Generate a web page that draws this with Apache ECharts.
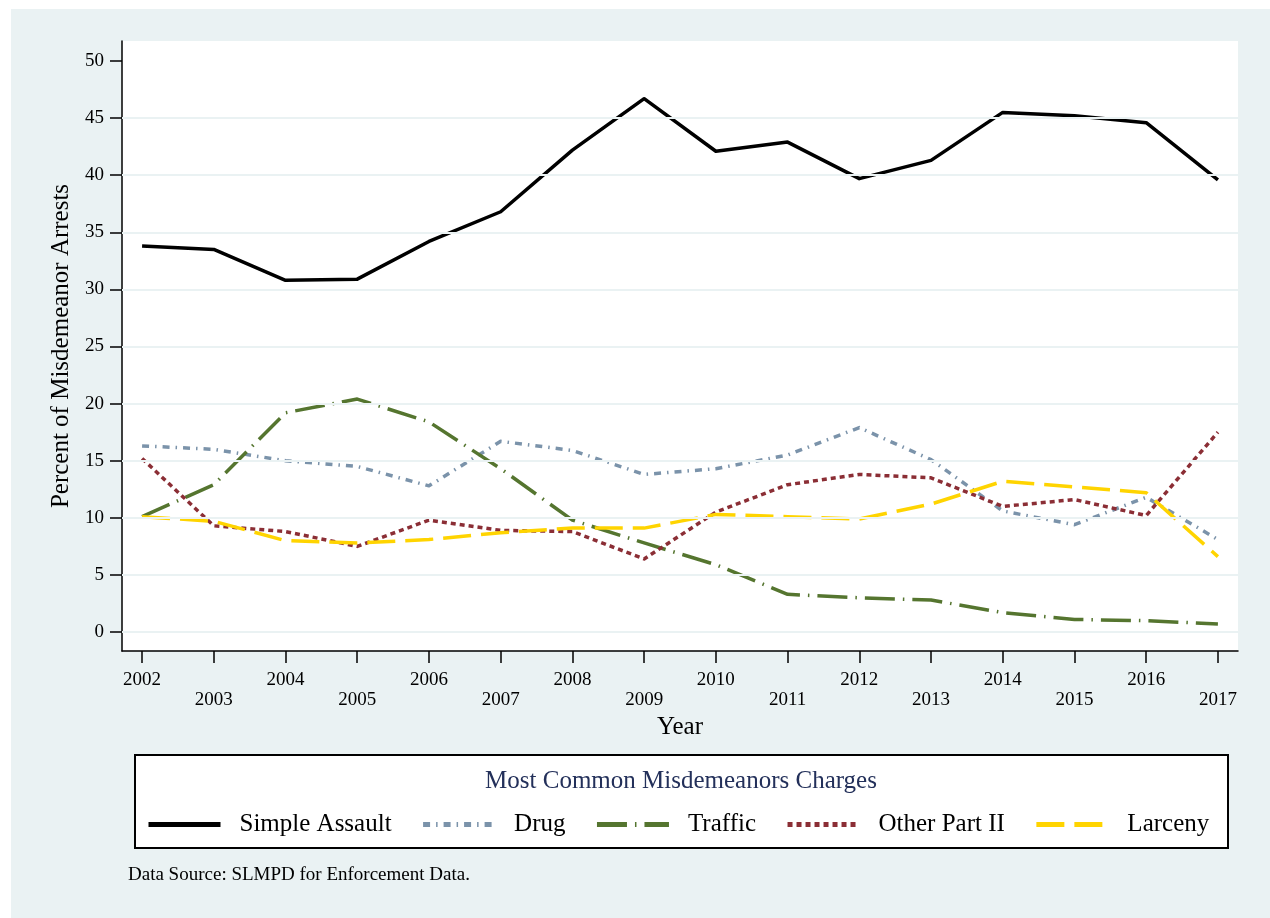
<!DOCTYPE html>
<html>
<head>
<meta charset="utf-8">
<title>Most Common Misdemeanors Charges</title>
<script src="https://cdn.jsdelivr.net/npm/echarts@6/dist/echarts.min.js"></script>
<style>
  html, body { margin: 0; padding: 0; background: #ffffff; }
  #panel { position: absolute; left: 11px; top: 9px; width: 1259px; height: 909px; background: #eaf2f3; }
  #chart { position: absolute; left: 0; top: 0; width: 1270px; height: 918px; }
</style>
</head>
<body>
<div id="panel"></div>
<div id="chart"></div>
<script>
// Share of misdemeanor arrests (%) by charge, 2002-2017
const years = [2002, 2003, 2004, 2005, 2006, 2007, 2008, 2009, 2010, 2011, 2012, 2013, 2014, 2015, 2016, 2017];
const simpleAssault = [33.8, 33.5, 30.8, 30.9, 34.2, 36.8, 42.2, 46.7, 42.1, 42.9, 39.7, 41.3, 45.5, 45.2, 44.6, 39.6];
const drug          = [16.3, 16.0, 15.0, 14.5, 12.8, 16.7, 15.9, 13.8, 14.3, 15.5, 17.9, 15.1, 10.6, 9.4, 11.8, 8.1];
const traffic       = [10.1, 12.9, 19.2, 20.4, 18.4, 14.3, 9.8, 7.8, 5.9, 3.3, 3.0, 2.8, 1.7, 1.1, 1.0, 0.7];
const otherPartII   = [15.2, 9.3, 8.8, 7.5, 9.8, 8.9, 8.8, 6.4, 10.5, 12.9, 13.8, 13.5, 11.0, 11.6, 10.2, 17.5];
const larceny       = [10.1, 9.7, 8.0, 7.8, 8.1, 8.7, 9.1, 9.1, 10.3, 10.1, 9.9, 11.2, 13.2, 12.7, 12.2, 6.6];
const yTicks = [0, 5, 10, 15, 20, 25, 30, 35, 40, 45, 50];
const gridValues = [0, 5, 10, 15, 20, 25, 30, 35, 40, 45];

const serif = '"Liberation Serif", "Times New Roman", "DejaVu Serif", serif';
const pairs = arr => years.map((y, i) => [y, arr[i]]);

const lineDefs = [
  { name: 'Simple Assault', data: simpleAssault, color: '#000000', dash: 'solid' },
  { name: 'Drug',           data: drug,          color: '#7b93aa', dash: [7, 6, 1.5, 6] },
  { name: 'Traffic',        data: traffic,       color: '#55752f', dash: [30, 8, 1.5, 8] },
  { name: 'Other Part II',  data: otherPartII,   color: '#8b2e35', dash: [5, 4] },
  { name: 'Larceny',        data: larceny,       color: '#ffd400', dash: [28, 10] }
];

const series = [
  {
    name: 'grid',
    type: 'line',
    data: [],
    silent: true,
    z: 1,
    markLine: {
      silent: true,
      symbol: 'none',
      label: { show: false },
      lineStyle: { color: '#eaf2f3', width: 2, type: 'solid' },
      emphasis: { disabled: true },
      data: gridValues.map(v => ({ yAxis: v }))
    }
  }
].concat(lineDefs.map(d => ({
  name: d.name,
  type: 'line',
  data: pairs(d.data),
  symbol: 'none',
  z: 3,
  color: d.color,
  lineStyle: { color: d.color, width: 3.5, type: d.dash, join: 'round' },
  emphasis: { disabled: true }
})));

const chart = echarts.init(document.getElementById('chart'), null, { renderer: 'canvas' });
chart.setOption({
  backgroundColor: 'transparent',
  animation: false,
  grid: {
    left: 122, top: 41, right: 32, bottom: 267,
    show: true, backgroundColor: '#ffffff', borderWidth: 0
  },
  xAxis: {
    type: 'value',
    min: 2001.72,
    max: 2017.28,
    name: 'Year',
    nameLocation: 'middle',
    nameGap: 57,
    nameTextStyle: { fontFamily: serif, fontSize: 25, color: '#000' },
    axisLine: { show: true, onZero: false, lineStyle: { color: '#000', width: 1.5 } },
    axisTick: { show: true, length: 12, customValues: years, lineStyle: { color: '#000', width: 1.5 } },
    axisLabel: {
      customValues: years,
      margin: 19,
      fontFamily: serif,
      fontSize: 19,
      color: '#000',
      lineHeight: 20,
      formatter: v => (v % 2 === 0 ? String(v) : '\n' + v)
    },
    splitLine: { show: false }
  },
  yAxis: {
    type: 'value',
    min: -1.66,
    max: 51.75,
    name: 'Percent of Misdemeanor Arrests',
    nameLocation: 'middle',
    nameGap: 47,
    nameTextStyle: { fontFamily: serif, fontSize: 25, color: '#000' },
    axisLine: { show: true, onZero: false, lineStyle: { color: '#000', width: 1.5 } },
    axisTick: { show: true, length: 12, customValues: yTicks, lineStyle: { color: '#000', width: 1.5 } },
    axisLabel: {
      customValues: yTicks,
      margin: 18,
      fontFamily: serif,
      fontSize: 19,
      color: '#000'
    },
    splitLine: { show: false }
  },
  legend: {
    data: lineDefs.map(d => d.name),
    orient: 'horizontal',
    left: 146,
    top: 812,
    itemWidth: 72,
    itemHeight: 20,
    itemGap: 29,
    padding: 0,
    selectedMode: false,
    itemStyle: { opacity: 0, borderWidth: 0 },
    lineStyle: { width: 5 },
    textStyle: { fontFamily: serif, fontSize: 25, color: '#000', padding: [0, 0, 0, 14] }
  },
  graphic: [
    {
      type: 'rect',
      z: 0,
      shape: { x: 135, y: 755, width: 1093, height: 93 },
      style: { fill: '#ffffff', stroke: '#000000', lineWidth: 2 }
    },
    {
      type: 'text',
      z: 1,
      x: 681, y: 781,
      style: {
        text: 'Most Common Misdemeanors Charges',
        fontFamily: serif, fontSize: 25, fill: '#23305a',
        align: 'center', verticalAlign: 'middle'
      }
    },
    {
      type: 'text',
      z: 1,
      x: 128, y: 875,
      style: {
        text: 'Data Source: SLMPD for Enforcement Data.',
        fontFamily: serif, fontSize: 19, fill: '#000',
        align: 'left', verticalAlign: 'middle'
      }
    }
  ],
  series: series
});
</script>
</body>
</html>
